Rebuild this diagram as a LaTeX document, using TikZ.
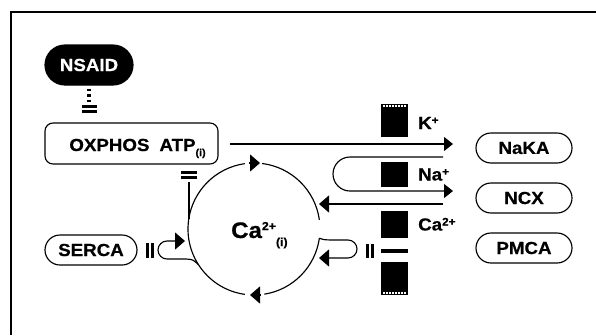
\documentclass[tikz,border=0pt]{standalone}
\usepackage{fontspec}
\setmainfont{Liberation Sans}[FakeStretch=1.07,BoldFeatures={FakeBold=0.6}]
\usetikzlibrary{arrows.meta,calc}
\begin{document}
\begin{tikzpicture}[x=1pt,y=-1pt,
  ln/.style={line width=1.15pt},
  lab/.style={font=\fontsize{17.5}{17.5}\selectfont\bfseries},
  pill/.style={draw,line width=1.15pt,rounded corners=15pt,minimum width=96pt,minimum height=30pt,inner sep=0pt,lab},
  blk/.style={fill=black,draw=none,inner sep=0pt,minimum width=27pt},
  tipA/.style={-{Triangle[length=10pt,width=17pt]}},
  tipB/.style={-{Triangle[length=9pt,width=14pt]}},
  dots/.style={white,line width=1.3pt,dash pattern=on 1.6pt off 1.4pt}
]
\useasboundingbox (0,0) rectangle (596,335);
% frame
\draw[line width=1.4pt] (596,12) -- (11,12) -- (11,335);

% nodes
\node[pill,fill=black,text=white,minimum width=88pt,minimum height=40pt,rounded corners=20pt] (nsaid) at (89,65) {NSAID};
\node[draw,line width=1.15pt,rounded corners=8pt,minimum width=173pt,minimum height=41pt,inner sep=0pt,text height=20pt,text depth=5pt,lab] (oxphos) at (131.5,143.5)
  {\hspace*{12pt}OXPHOS\hspace{10pt}ATP\raisebox{-5pt}{\fontsize{10}{10}\selectfont (i)}};
\node[pill,minimum width=92pt] (serca) at (91,250) {SERCA};
\node[pill] (naka) at (524,148) {NaKA};
\node[pill] (ncx) at (524,198) {NCX};
\node[pill] (pmca) at (524,248) {PMCA};

% Ca circle text
\coordinate (cac) at (254,229);
\node[anchor=base west,inner sep=0pt,font=\fontsize{22.5}{22.5}\selectfont\bfseries] (catext) at (231,238)
  {Ca\raisebox{8pt}{\fontsize{11.5}{11.5}\selectfont 2+}\raisebox{-8pt}{\fontsize{11.5}{11.5}\selectfont (i)}};

% membrane blocks
\node[blk,minimum height=33pt] (mK) at (394.5,120.5) {};
\node[blk,minimum height=25pt] (mNa) at (394.5,174.5) {};
\node[blk,minimum height=27pt] (mCa) at (394.5,224.5) {};
\node[blk,minimum height=33pt] (mB) at (394.5,278.5) {};
\draw[dots] (383,106) -- (406,106);
\draw[dots] (383,293) -- (406,293);
\fill (381,249) rectangle (408,252.5);

% ion labels
\node[anchor=base west,inner sep=0pt,lab] (lK) at (418,129) {K\raisebox{5pt}{\fontsize{11}{11}\selectfont +}};
\node[anchor=base west,inner sep=0pt,lab] (lNa) at (418,180.5) {Na\raisebox{5pt}{\fontsize{11}{11}\selectfont +}};
\node[anchor=base west,inner sep=0pt,lab] (lCa) at (418,230.5) {Ca\raisebox{5pt}{\fontsize{11}{11}\selectfont 2+}};

% NSAID inhibition
\coordinate (nsd1) at (89,89);
\coordinate (nsd2) at (89,103);
\draw[line width=4pt,dash pattern=on 2.3pt off 3pt] (nsd1) -- (nsd2);
\fill (82,105) rectangle (97,108);
\fill (82,110) rectangle (97,113);

% OXPHOS inhibition by Ca
\fill (181,171) rectangle (197,174);
\fill (181,176) rectangle (197,179);
\coordinate (oxv1) at (189,182);
\coordinate (oxv2) at (189,219);
\draw[ln] (oxv1) -- (oxv2);

% circle arcs
\draw[ln] (cac) ++(8:66) arc[start angle=8,end angle=81,radius=66];
\draw[ln] (cac) ++(98:66) arc[start angle=98,end angle=262,radius=66];
\draw[ln] (cac) ++(277:66) arc[start angle=277,end angle=352,radius=66];
\draw[ln,tipA] (249,163) -- (260,163);
\draw[ln,tipA] (261,295) -- (250,295);

% ATP line to NaKA
\coordinate (kA) at (230,144);
\coordinate (kB) at (453,144);
\draw[ln,tipB] (kA) -- (kB);
% Na hook
\draw[ln,tipB] (443,157) -- (350,157) arc[start angle=-90,end angle=-270,radius=17] -- (453,191);
% NCX Ca return
\coordinate (nA) at (443,204);
\coordinate (nB) at (319,204);
\draw[ln,tipA] (nA) -- (nB);
% PMCA hook
\coordinate (pmstart) at ($(cac)+(8:66)$);
\draw[ln,tipA] (pmstart) .. controls (324,239.8) .. (332,240) -- (348,240) arc[start angle=-90,end angle=90,radius=9] -- (319,258);
\fill (366,243.5) rectangle (369,257.5);
\fill (371,243.5) rectangle (374,257.5);
% SERCA hook
\coordinate (serstart) at ($(cac)+(147:66)$);
\draw[ln,tipA] (serstart) .. controls (193,259.5) .. (186,259) -- (167,259) arc[start angle=90,end angle=270,radius=9] -- (185,241);
\fill (146,243) rectangle (149,258);
\fill (151,243) rectangle (154,258);
\end{tikzpicture}
\end{document}
